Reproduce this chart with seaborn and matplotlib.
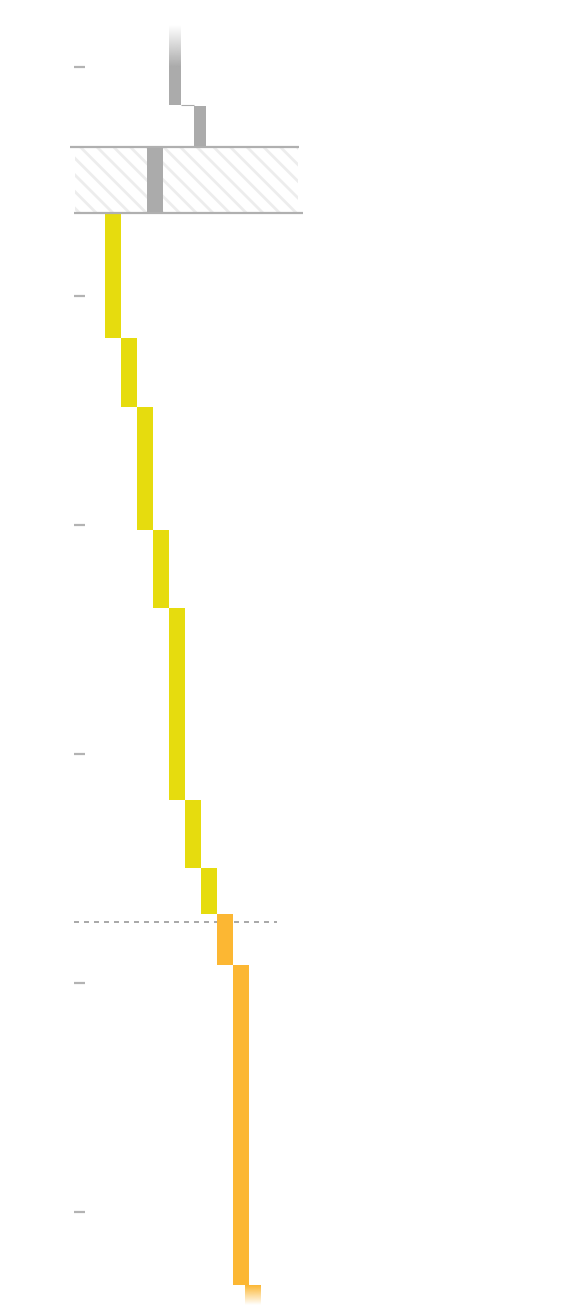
import numpy as np
import matplotlib.pyplot as plt
import seaborn as sns
from matplotlib.colors import to_rgb

# values; one tick step = 100 units, time runs downwards
tick_values = [0, 100, 200, 300, 400, 500]

grey_start = [0.0, 17.0, 34.9]
grey_end = [16.6, 34.9, 63.8]
grey_col = [4.0, 5.56, 2.63]
grey_width = [0.75, 0.75, 1.0]
grey_fade = [-18.3, 0.0]          # fading lead-in above the first grey bar

band_start, band_end = 34.9, 63.8   # hatched band

yellow_edges = [63.8, 118.3, 148.5, 202.2, 236.2, 320.1, 349.8, 369.9]
orange_edges = [369.9, 392.1, 531.9]
orange_fade = [531.9, 540.6]        # fading tail below the last bar

threshold = 373.4                   # dashed line

GREY = "#ababab"
YELLOW = "#e6dc0e"
ORANGE = "#fcb733"

sns.set_style("white")
plt.rcParams["hatch.linewidth"] = 2.0
fig = plt.figure(figsize=(5.72, 13.12), dpi=100)
ax = fig.add_axes([0, 0, 1, 1])


def px_x(p):
    # horizontal column units: one bar = 16 px, first yellow bar at 105 px
    return (p - 105) / 16


def fade(ax, x0, width, y0, y1, color, reverse=False):
    rgb = to_rgb(color)
    alpha = np.linspace(0, 1, 64)
    if reverse:
        alpha = alpha[::-1]
    img = np.zeros((64, 1, 4))
    img[:, 0, :3] = rgb
    img[:, 0, 3] = alpha
    ax.imshow(img, extent=(x0, x0 + width, y0, y1), origin="lower",
              aspect="auto", interpolation="bilinear", zorder=3)


# hatched band with its border lines
ax.bar(px_x(75), band_end - band_start, bottom=band_start, width=px_x(298) - px_x(75),
       align="edge", color="none", edgecolor="#ededed", hatch="\\\\", linewidth=0, zorder=1)
ax.hlines(band_start, px_x(70), px_x(299), color="#b0b0b0", lw=1.6, zorder=4)
ax.hlines(band_end, px_x(74), px_x(303), color="#b0b0b0", lw=1.6, zorder=4)

# grey bars
ax.bar(grey_col, np.subtract(grey_end, grey_start), bottom=grey_start, width=grey_width,
       align="edge", color=GREY, linewidth=0, zorder=3)
fade(ax, grey_col[0], grey_width[0], grey_fade[0], grey_fade[1], GREY)
ax.hlines(grey_end[0] + 0.2, grey_col[0] + grey_width[0], grey_col[1], color=GREY, lw=0.8, zorder=3)

# yellow steps
y_start = yellow_edges[:-1]
y_height = np.diff(yellow_edges)
ax.bar(np.arange(len(y_start)), y_height, bottom=y_start, width=1.0,
       align="edge", color=YELLOW, linewidth=0, zorder=3)

# orange steps
o_start = orange_edges[:-1]
o_height = np.diff(orange_edges)
o_col = len(y_start) + np.arange(len(o_start))
ax.bar(o_col, o_height, bottom=o_start, width=1.0,
       align="edge", color=ORANGE, linewidth=0, zorder=3)
fade(ax, o_col[-1] + 0.75, 1.0, orange_fade[0], orange_fade[1], ORANGE, reverse=True)

# dashed threshold
ax.hlines(threshold, px_x(74), px_x(277), color="#999999", lw=1.2,
          linestyles=(0, (3, 3)), zorder=2)

ax.set_xlim(px_x(0), px_x(572))
ax.set_ylim((1312 - 67) / 229 * 100, (0 - 67) / 229 * 100)

ax.set_yticks(tick_values)
ax.set_xticks([])
ax.spines["left"].set_position(("data", px_x(85)))
for s in ax.spines.values():
    s.set_visible(False)
ax.tick_params(axis="y", direction="out", length=8, width=1.6, color="#b3b3b3",
               labelleft=False, left=True)

fig.savefig("out.png", dpi=100)
